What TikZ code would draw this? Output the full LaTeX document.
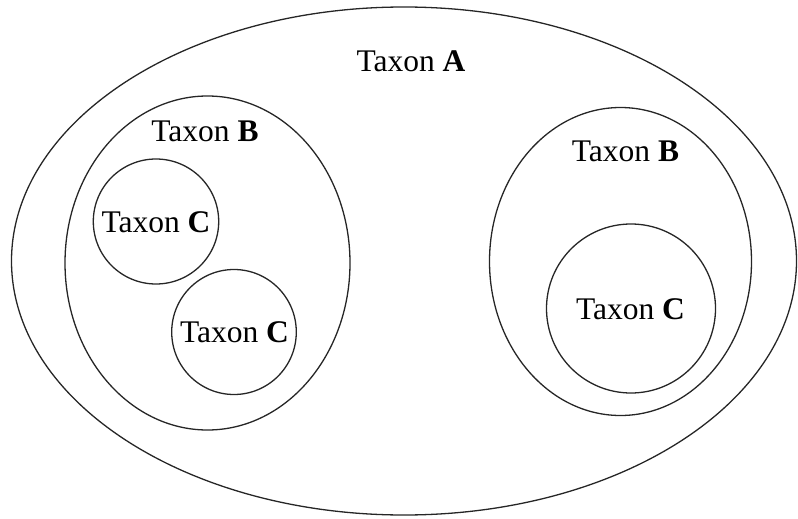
\documentclass[tikz,border=0pt]{standalone}
\usepackage{fontspec}
\setmainfont{Liberation Serif}
\begin{document}
\begin{tikzpicture}[x=1pt,y=-1pt,
  ring/.style={draw=black!85,line width=1.3pt},
  lbl/.style={anchor=base,inner sep=0pt,font=\fontsize{31.5}{37}\selectfont}]
\useasboundingbox (0,0) rectangle (798,519);
\draw[ring] (404,261) ellipse [x radius=392.5,y radius=254];
\draw[ring] (207.5,263) ellipse [x radius=142.5,y radius=167];
\draw[ring] (156,221.5) ellipse [x radius=62.7,y radius=62.5];
\draw[ring] (234,332) ellipse [x radius=62.3,y radius=62.5];
\draw[ring] (620.5,261.5) ellipse [x radius=131,y radius=154];
\draw[ring] (631,308.5) ellipse [x radius=84.5,y radius=84.5];
\node[lbl] (ta) at (411,72) {Taxon \textbf{A}};
\node[lbl] (tb1) at (205,141) {Taxon \textbf{B}};
\node[lbl] (tb2) at (625.5,161) {Taxon \textbf{B}};
\node[lbl] (tc1) at (156,232.3) {Taxon \textbf{C}};
\node[lbl] (tc2) at (234.5,342.7) {Taxon \textbf{C}};
\node[lbl] (tc3) at (630.5,319.3) {Taxon \textbf{C}};
\end{tikzpicture}
\end{document}
